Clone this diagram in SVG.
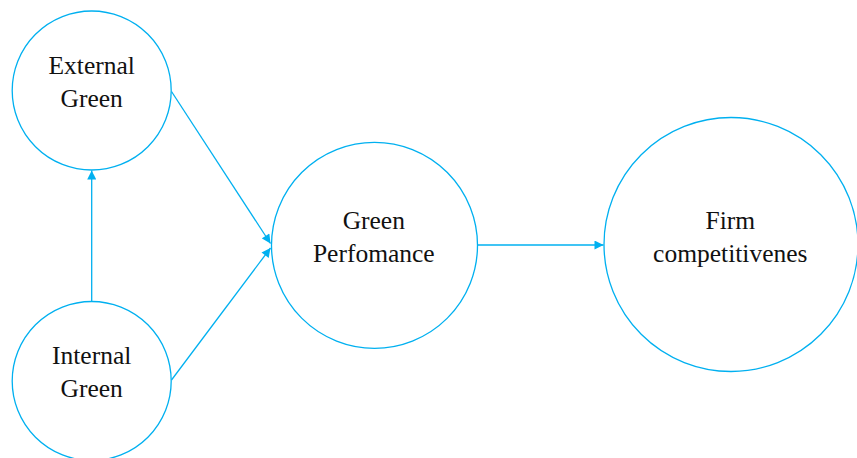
<svg xmlns="http://www.w3.org/2000/svg" width="857" height="458" viewBox="0 0 857 458">
  <style>
    .node { fill: #ffffff; stroke: #00b0f0; stroke-width: 1.3; }
    .label { font-family: "Liberation Serif", "Times New Roman", serif; font-size: 25.5px; fill: #111111; text-anchor: middle; }
    .edge { stroke: #00b0f0; stroke-width: 1.3; fill: none; marker-end: url(#arrow); }
  </style>
  <defs>
    <marker id="arrow" viewBox="0 0 10 10" refX="10" refY="5" markerWidth="10" markerHeight="9" markerUnits="userSpaceOnUse" orient="auto">
      <path d="M0,0 L10,5 L0,10 Z" fill="#00b0f0"/>
    </marker>
  </defs>
  <rect width="857" height="458" fill="#ffffff"/>

  <g id="connectors">
    <line class="edge" x1="91.7" y1="301.5" x2="91.7" y2="170.5"/>
    <line class="edge" x1="171.5" y1="91.5" x2="270.5" y2="243.5"/>
    <line class="edge" x1="171.5" y1="380" x2="270.5" y2="248"/>
    <line class="edge" x1="477.5" y1="245" x2="603.5" y2="245"/>
  </g>

  <g id="external-green">
    <circle class="node" cx="91.7" cy="90.5" r="79.5"/>
    <text class="label" x="91.7" y="73.5">External</text>
    <text class="label" x="91.7" y="107">Green</text>
  </g>

  <g id="internal-green">
    <circle class="node" cx="91.7" cy="381" r="79.5"/>
    <text class="label" x="91.7" y="363.5">Internal</text>
    <text class="label" x="91.7" y="397">Green</text>
  </g>

  <g id="green-performance">
    <circle class="node" cx="374.5" cy="245.3" r="103"/>
    <text class="label" x="373.8" y="229">Green</text>
    <text class="label" x="373.8" y="261.7">Perfomance</text>
  </g>

  <g id="firm-competitiveness">
    <circle class="node" cx="731" cy="244.5" r="127"/>
    <text class="label" x="730.3" y="229">Firm</text>
    <text class="label" x="730.3" y="261.7">competitivenes</text>
  </g>
</svg>
